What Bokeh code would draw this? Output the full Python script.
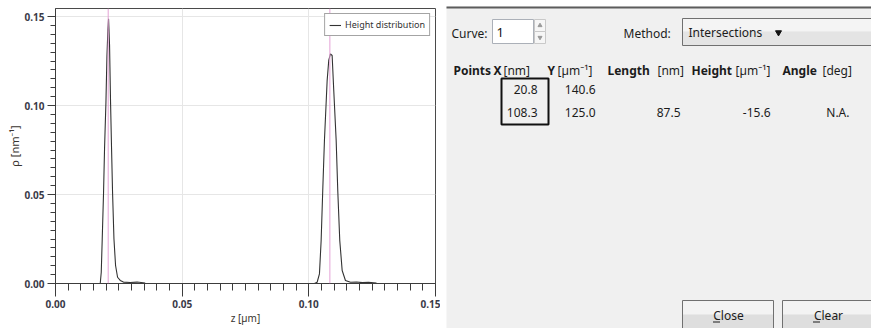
import numpy as np
from bokeh.plotting import figure
from bokeh.models import (Range1d, FixedTicker, Span, Legend, LegendItem,
                          ColumnDataSource)
from bokeh.layouts import row
from bokeh.embed import file_html
from bokeh.resources import INLINE
from bokeh.core.properties import value

# ---------------- data ----------------
peak1_z = [0.01766, 0.01806, 0.01845, 0.01897, 0.01936, 0.01991, 0.02031, 0.02070,
           0.02094, 0.02134, 0.02173, 0.02213, 0.02252, 0.02307, 0.02371, 0.02450,
           0.02556, 0.02680, 0.02950, 0.03220, 0.03540]
peak1_rho = [0.0000, 0.0063, 0.0251, 0.0513, 0.0757, 0.1019, 0.1281, 0.1431,
             0.1487, 0.1337, 0.1019, 0.0757, 0.0513, 0.0251, 0.0101, 0.0035,
             0.0017, 0.0008, 0.0006, 0.0008, 0.0003]

peak2_z = [0.10221, 0.10328, 0.10419, 0.10486, 0.10549, 0.10616, 0.10723, 0.10786,
           0.10853, 0.10920, 0.10984, 0.11079, 0.11142, 0.11221, 0.11316, 0.11446,
           0.11644, 0.11881, 0.12118, 0.12355, 0.12671]
peak2_rho = [0.0000, 0.0007, 0.0054, 0.0242, 0.0522, 0.0803, 0.1140, 0.1253,
             0.1290, 0.1281, 0.1084, 0.0803, 0.0522, 0.0242, 0.0073, 0.0017,
             0.0007, 0.0008, 0.0005, 0.0007, 0.0003]

marker_z = [0.0208, 0.1083]

x_ticks = [0.00, 0.05, 0.10, 0.15]
x_tick_labels = ["0.00", "0.05", "0.10", "0.15"]
y_ticks = [0.00, 0.05, 0.10, 0.15]
y_tick_labels = ["0.00", "0.05", "0.10", "0.15"]

curve_label = "Height distribution"
x_title = "z [µm]"
y_title = "ρ [nm⁻¹]"

curve_no = "1"
method_name = "Intersections"
col_names = ["Points", "X", "Y", "Length", "Height", "Angle"]
col_units = ["", "[nm]", "[µm⁻¹]", "[nm]", "[µm⁻¹]", "[deg]"]
pt_x = ["20.8", "108.3"]
pt_y = ["140.6", "125.0"]
seg_length = ["", "87.5"]
seg_height = ["", "-15.6"]
seg_angle = ["", "N.A."]
button_labels = ["Close", "Clear"]

# ---------------- left: graph ----------------
AX = "#3c3c3c"
p = figure(width=440, height=328, x_range=Range1d(0, 0.15), y_range=Range1d(0, 0.1545),
           output_backend="svg", toolbar_location=None,
           min_border_left=55, min_border_right=5, min_border_top=8, min_border_bottom=45)
p.frame_align = False
p.background_fill_color = "white"
p.border_fill_color = "white"
p.outline_line_color = "#4a4a4a"

minor = [round(v, 4) for v in np.arange(0, 0.1501, 0.005)]
p.xaxis.ticker = FixedTicker(ticks=x_ticks, minor_ticks=minor)
p.yaxis.ticker = FixedTicker(ticks=y_ticks, minor_ticks=minor)
p.xaxis.major_label_overrides = {t: s for t, s in zip(x_ticks, x_tick_labels)}
p.yaxis.major_label_overrides = {t: s for t, s in zip(y_ticks, y_tick_labels)}

for ax in (p.xaxis[0], p.yaxis[0]):
    ax.axis_line_color = AX
    ax.major_tick_line_color = AX
    ax.minor_tick_line_color = AX
    ax.major_tick_in = 0
    ax.minor_tick_in = 0
    ax.major_label_text_font = "Noto Sans"
    ax.major_label_text_font_size = "10px"
    ax.major_label_text_font_style = "bold"
    ax.major_label_text_color = "#3a3a48"
    ax.axis_label_text_font = "Noto Sans"
    ax.axis_label_text_font_style = "normal"
    ax.axis_label_text_color = "#3a3530"

p.xaxis.major_tick_out = 13
p.xaxis.minor_tick_out = 7
p.xaxis.major_label_standoff = 3
p.xaxis.axis_label = x_title
p.xaxis.axis_label_standoff = 0
p.xaxis.axis_label_text_font_size = "10px"

p.yaxis.major_tick_out = 8
p.yaxis.minor_tick_out = 5
p.yaxis.major_label_standoff = 3
p.yaxis.axis_label = y_title
p.yaxis.axis_label_standoff = 0
p.yaxis.axis_label_text_font_size = "11px"

p.xgrid.grid_line_color = "#e6e6e6"
p.ygrid.grid_line_color = "#e6e6e6"

for z in marker_z:
    p.add_layout(Span(location=z, dimension="height", line_color="#e4a2d6", line_width=1))

r1 = p.line(peak1_z, peak1_rho, line_color="#333333", line_width=1.1)
r2 = p.line(peak2_z, peak2_rho, line_color="#333333", line_width=1.1)

leg = Legend(items=[LegendItem(label=curve_label, renderers=[r1])], location="top_right")
leg.border_line_color = "#4a4a4a"
leg.border_line_width = 1
leg.background_fill_alpha = 1.0
leg.label_text_font = "Noto Sans"
leg.label_text_font_size = "9px"
leg.label_text_color = "#333333"
leg.glyph_width = 12
leg.glyph_height = 12
leg.label_height = 12
leg.padding = 4
leg.margin = 5
leg.label_standoff = 4
leg.spacing = 0
p.add_layout(leg)

# ---------------- right: dialog panel ----------------
q = figure(width=431, height=328, x_range=Range1d(440, 871), y_range=Range1d(328, 0),
           output_backend="svg", toolbar_location=None, min_border=0,
           x_axis_location=None, y_axis_location=None)
q.frame_align = False
q.grid.visible = False
q.outline_line_color = None
q.background_fill_color = "white"
q.border_fill_color = "white"

FONT = value("Noto Sans")
TXT = "#1c1c1c"


def txt(x, y, s, bold=False, align="left", size="12px", color=TXT):
    q.text(x=[x], y=[y], text=[s], text_font=FONT, text_font_size=size,
           text_font_style="bold" if bold else "normal", text_align=align,
           text_baseline="middle", text_color=color)


# panel background and top edge
q.quad(left=446, right=880, top=6, bottom=340, fill_color="#f0f0f0", line_color=None)
q.segment(x0=446, y0=7, x1=880, y1=7, line_color="#5c5c5c", line_width=2)

# Curve spin box
txt(451, 32.5, "Curve:")
q.quad(left=492, right=533, top=19, bottom=43, fill_color="white", line_color="#abb0b8")
txt(496, 31.5, curve_no, size="13px", color="#111111")
q.quad(left=534, right=545, top=19, bottom=31, fill_color="#f6f6f6", line_color="#c9c9c9")
q.quad(left=534, right=545, top=31, bottom=43, fill_color="#f6f6f6", line_color="#c9c9c9")
q.scatter(x=[539.5, 539.5], y=[25, 37], marker=["triangle", "inverted_triangle"],
          size=4, color="#9a9a9a")

# Method combo
txt(623, 32.5, "Method:")
q.quad(left=682, right=900, top=18, bottom=31, fill_color="#f4f4f4", line_color=None)
q.quad(left=682, right=900, top=31, bottom=45, fill_color="#e4e4e4", line_color=None)
q.quad(left=682, right=900, top=18, bottom=45, fill_color=None, line_color="#707070")
txt(688, 32, method_name)
q.scatter(x=[778], y=[32], marker="inverted_triangle", size=6, color="#111111")

# table header
name_x = [453, 493, 547, 607, 691, 782]
unit_x = [0, 503, 557, 657, 735, 822]
for nx, ux, nm, un in zip(name_x, unit_x, col_names, col_units):
    txt(nx, 70, nm, bold=True)
    if un:
        txt(ux, 70, un)

# table cells
row_y = [89, 112]
col_right = [537, 595, 680, 770, 849]
for cx, vals in zip(col_right, [pt_x, pt_y, seg_length, seg_height, seg_angle]):
    src = ColumnDataSource(dict(x=[cx] * len(vals), y=row_y, t=vals))
    q.text(x="x", y="y", text="t", source=src, text_font=FONT, text_font_size="12px",
           text_align="right", text_baseline="middle", text_color=TXT)

q.quad(left=501, right=548, top=78, bottom=124, fill_color=None,
       line_color="#111111", line_width=2)

# buttons
btn_left = [682, 782]
btn_right = [773, 900]
btn_center = [728, 828]
for bl, br, bc, lab in zip(btn_left, btn_right, btn_center, button_labels):
    q.quad(left=bl, right=br, top=301, bottom=314, fill_color="#f3f3f3", line_color=None)
    q.quad(left=bl, right=br, top=314, bottom=335, fill_color="#dedede", line_color=None)
    q.quad(left=bl, right=br, top=300, bottom=335, fill_color=None, line_color="#707070")
    txt(bc, 315, lab, align="center")
    q.segment(x0=bc - 15.5, y0=321.5, x1=bc - 8.5, y1=321.5, line_color=TXT, line_width=1)

layout = row(p, q)
open("out.html", "w").write(file_html(layout, INLINE))
